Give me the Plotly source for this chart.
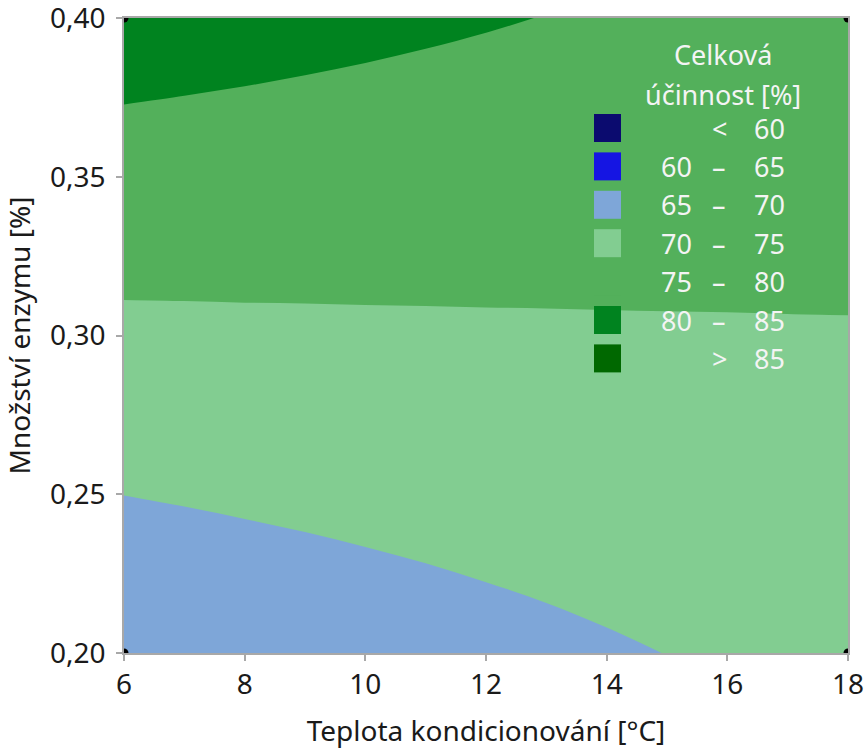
import plotly.graph_objects as go

# ---- data ----
x_temp = [6, 7, 8, 9, 10, 11, 12, 13, 14, 15, 16, 17, 18]
y_enz = [0.20, 0.25, 0.30, 0.35, 0.40]
z_eff = [
    [65.97, 66.43, 66.90, 67.35, 67.81, 68.26, 68.71, 69.15, 69.60, 70.04, 70.47, 70.91, 71.34],
    [70.03, 70.30, 70.57, 70.83, 71.09, 71.34, 71.60, 71.85, 72.10, 72.34, 72.58, 72.82, 73.06],
    [74.09, 74.16, 74.24, 74.30, 74.37, 74.43, 74.49, 74.54, 74.60, 74.65, 74.69, 74.74, 74.78],
    [78.15, 78.03, 77.91, 77.78, 77.65, 77.51, 77.38, 77.24, 77.10, 76.95, 76.80, 76.65, 76.50],
    [82.21, 81.89, 81.58, 81.25, 80.93, 80.60, 80.27, 79.93, 79.60, 79.26, 78.91, 78.57, 78.22],
]
design_x = [6, 18, 6, 18]
design_y = [0.20, 0.20, 0.40, 0.40]

x_ticks = [6, 8, 10, 12, 14, 16, 18]
y_ticks = [0.20, 0.25, 0.30, 0.35, 0.40]
y_ticktext = ["0,20", "0,25", "0,30", "0,35", "0,40"]

band_left = ["", "60", "65", "70", "75", "80", ""]
band_mid = ["<", "–", "–", "–", "–", "–", ">"]
band_right = ["60", "65", "70", "75", "80", "85", "85"]
band_colors = ["#0b0b6f", "#1515e3", "#7ea6d8", "#82cd91", "#53b05b", "#00831f", "#006800"]
legend_title = ["Celková", "účinnost [%]"]

FONT = "Noto Sans"
TXT = "#1a1a1a"

# stepped colorscale: 7 bands
n = len(band_colors)
cs = []
for k, c in enumerate(band_colors):
    lo = 0 if k == 0 else (2 * k - 1) / (2 * (n - 1))
    hi = 1 if k == n - 1 else (2 * k + 1) / (2 * (n - 1))
    cs.append([lo, c])
    cs.append([hi, c])

fig = go.Figure()
fig.add_trace(go.Contour(
    x=x_temp, y=y_enz, z=z_eff,
    contours=dict(start=60, end=85, size=5, coloring="fill", showlines=False),
    line=dict(width=0, smoothing=1.0),
    colorscale=cs, showscale=False, hoverinfo="skip",
))
fig.add_trace(go.Scatter(
    x=design_x, y=design_y, mode="markers",
    marker=dict(color="black", size=9), cliponaxis=True,
    showlegend=False, hoverinfo="skip",
))

# ---- custom legend (paper coordinates) ----
L, R, T, B = 124, 848, 18, 653
W, H = R - L, B - T
def px(xp):
    return (xp - L) / W
def py(yp):
    return (B - yp) / H

lf = dict(family=FONT, size=27, color="#f4f4f4")
shapes = []
annotations = []
for k in range(n):
    cy = 128 + 38.4 * k
    shapes.append(dict(type="rect", xref="paper", yref="paper",
                       x0=px(594), x1=px(621), y0=py(cy + 14), y1=py(cy - 14),
                       fillcolor=band_colors[k], line=dict(width=0), layer="above"))
    if band_left[k]:
        annotations.append(dict(xref="paper", yref="paper", x=px(694), y=py(cy),
                                text=band_left[k], showarrow=False, xanchor="right",
                                yanchor="middle", font=lf))
    annotations.append(dict(xref="paper", yref="paper", x=px(719), y=py(cy),
                            text=band_mid[k], showarrow=False, xanchor="center",
                            yanchor="middle", font=lf))
    annotations.append(dict(xref="paper", yref="paper", x=px(787), y=py(cy),
                            text=band_right[k], showarrow=False, xanchor="right",
                            yanchor="middle", font=lf))
for i, t in enumerate(legend_title):
    annotations.append(dict(xref="paper", yref="paper", x=px(723), y=py(55 + 39 * i),
                            text=t, showarrow=False, xanchor="center",
                            yanchor="middle", font=lf))

axis_common = dict(showgrid=False, zeroline=False, showline=True, linecolor="#a8a8a8",
                   linewidth=1.5, mirror=True, ticks="outside", ticklen=6,
                   tickcolor="#a8a8a8", tickwidth=1.5, automargin=False,
                   ticklabeloverflow="allow",
                   tickfont=dict(family=FONT, size=28, color=TXT))

fig.update_layout(
    width=868, height=749,
    margin=dict(l=L, r=868 - R, t=T, b=749 - B),
    paper_bgcolor="white", plot_bgcolor="white",
    font=dict(family=FONT, color=TXT),
    xaxis=dict(range=[6, 18], tickmode="array", tickvals=x_ticks,
               ticktext=[str(v) for v in x_ticks],
               title=dict(text="Teplota kondicionování [°C]", standoff=22,
                          font=dict(family=FONT, size=28, color=TXT)),
               **axis_common),
    yaxis=dict(range=[0.20, 0.40], tickmode="array", tickvals=y_ticks,
               ticktext=y_ticktext, ticklabelstandoff=5,
               title=dict(text="Množství enzymu [%]", standoff=20,
                          font=dict(family=FONT, size=28, color=TXT)),
               **axis_common),
    shapes=shapes, annotations=annotations,
)

fig.write_html("out.html", config={"displayModeBar": False},
               post_script="document.body.style.margin='0';document.body.style.padding='0';")
